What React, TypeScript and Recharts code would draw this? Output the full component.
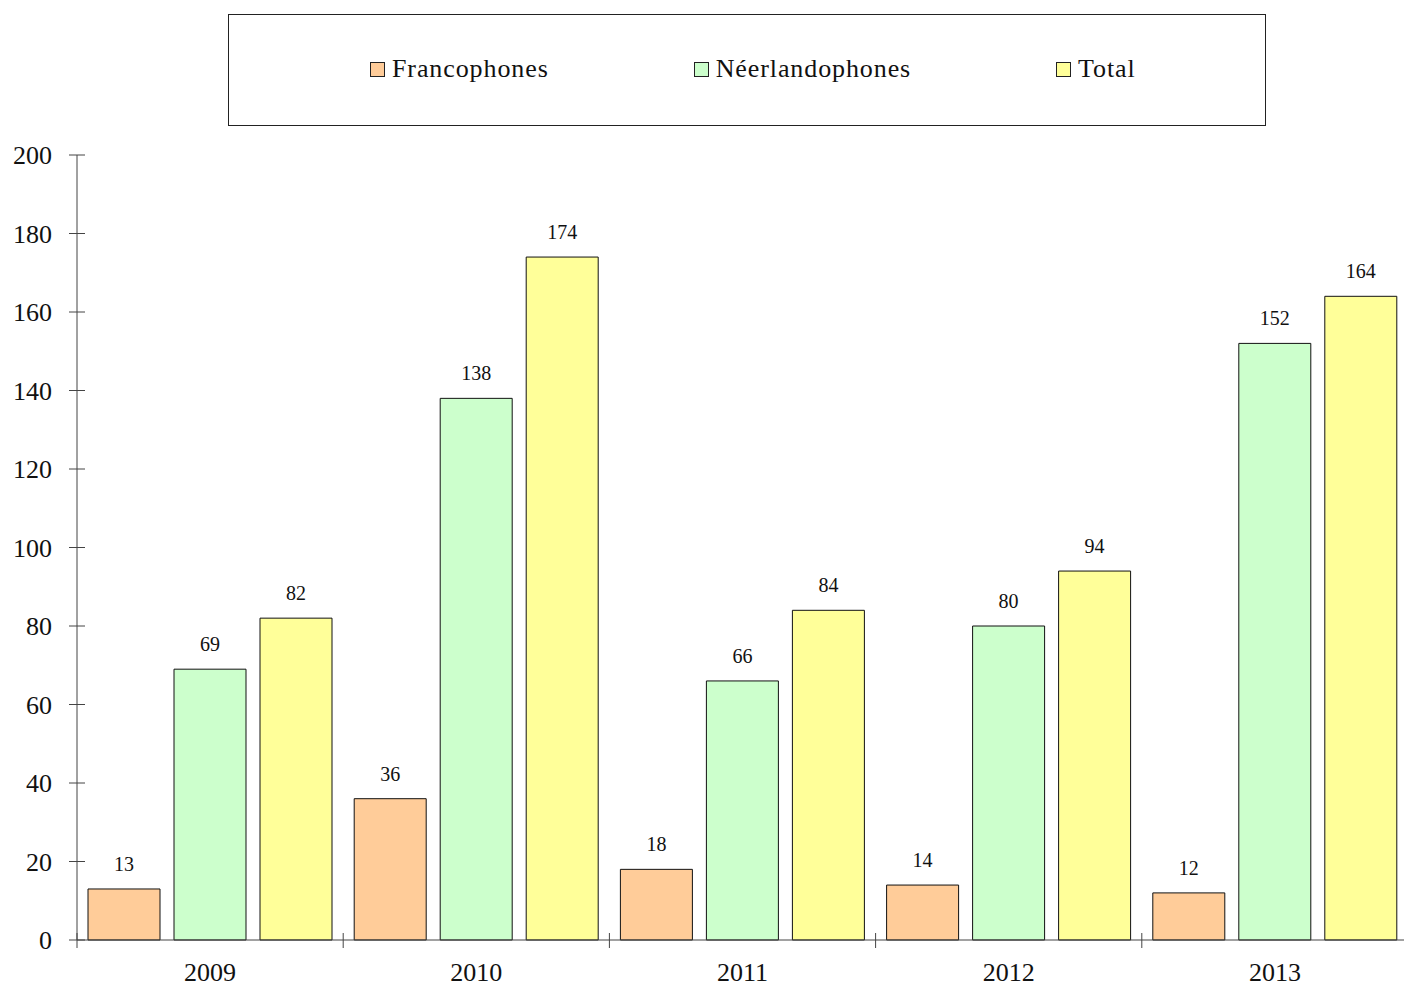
import { Bar, BarChart, LabelList, XAxis, YAxis } from "recharts";

const years = ["2009", "2010", "2011", "2012", "2013"];
const francophones = [13, 36, 18, 14, 12];
const neerlandophones = [69, 138, 66, 80, 152];
const totals = [82, 174, 84, 94, 164];
const yTicks = [0, 20, 40, 60, 80, 100, 120, 140, 160, 180, 200];

const series = [
  { key: "fr", name: "Francophones", color: "#ffcc99" },
  { key: "nl", name: "Néerlandophones", color: "#ccffcc" },
  { key: "total", name: "Total", color: "#ffff99" },
];

const rows = years.map((year, i) => ({
  year,
  fr: francophones[i],
  nl: neerlandophones[i],
  total: totals[i],
}));

const FONT = '"Liberation Serif", "Times New Roman", serif';
const AXIS = "#444";
const Y_MARGIN = 25;

// y ticks cross the axis line, label sits to the left
function YTick({ x, y, payload }: any) {
  const ax = x + Y_MARGIN;
  return (
    <g>
      <line x1={ax - 8} x2={ax + 8} y1={y} y2={y} stroke={AXIS} />
      <text x={x} y={y} dy="0.35em" textAnchor="end" fontSize={26} fontFamily={FONT} fill="#111">
        {payload.value}
      </text>
    </g>
  );
}

// x ticks mark the category boundaries, label stays centred under the group
function XTick({ x, y, payload }: any) {
  const edge = x - (payload.offset ?? 0);
  return (
    <g>
      <line x1={edge} x2={edge} y1={y - 7} y2={y + 8} stroke={AXIS} />
      <text x={x} y={y + 41} textAnchor="middle" fontSize={26} fontFamily={FONT} fill="#111">
        {payload.value}
      </text>
    </g>
  );
}

function Legend() {
  return (
    <div
      style={{
        position: "absolute",
        left: 228,
        top: 14,
        width: 1038,
        height: 112,
        border: "1px solid #222",
        display: "flex",
        alignItems: "center",
        justifyContent: "flex-start",
        paddingLeft: 141,
        paddingBottom: 2,
        gap: 145,
        fontFamily: FONT,
        fontSize: 26,
        letterSpacing: 0.9,
        color: "#111",
        boxSizing: "border-box",
      }}
    >
      {series.map((s) => (
        <div key={s.key} style={{ display: "flex", alignItems: "center" }}>
          <span
            style={{
              width: 13,
              height: 13,
              background: s.color,
              border: "1px solid #222",
              marginRight: 7,
              display: "inline-block",
            }}
          />
          <span>{s.name}</span>
        </div>
      ))}
    </div>
  );
}

export default function App() {
  return (
    <div
      style={{
        position: "absolute",
        left: 0,
        top: 0,
        width: 1404,
        height: 987,
        overflow: "hidden",
        background: "#fff",
      }}
    >
      <BarChart
        width={1408}
        height={987}
        data={rows}
        margin={{ top: 155, right: 0, bottom: 0, left: 0 }}
        barSize={72}
        barGap={14}
      >
        <XAxis
          dataKey="year"
          height={47}
          stroke={AXIS}
          tickSize={0}
          tickMargin={0}
          tickLine={false}
          tick={<XTick />}
          interval={0}
        />
        <YAxis
          width={77}
          domain={[0, 200]}
          ticks={yTicks}
          stroke={AXIS}
          tickSize={0}
          tickMargin={Y_MARGIN}
          tickLine={false}
          tick={<YTick />}
          interval={0}
        />
        {series.map((s) => (
          <Bar key={s.key} dataKey={s.key} name={s.name} fill={s.color} stroke="#111" strokeWidth={1} isAnimationActive={false}>
            <LabelList dataKey={s.key} position="top" offset={18} fontSize={20} fontFamily={FONT} fill="#111" />
          </Bar>
        ))}
      </BarChart>
      <Legend />
    </div>
  );
}
